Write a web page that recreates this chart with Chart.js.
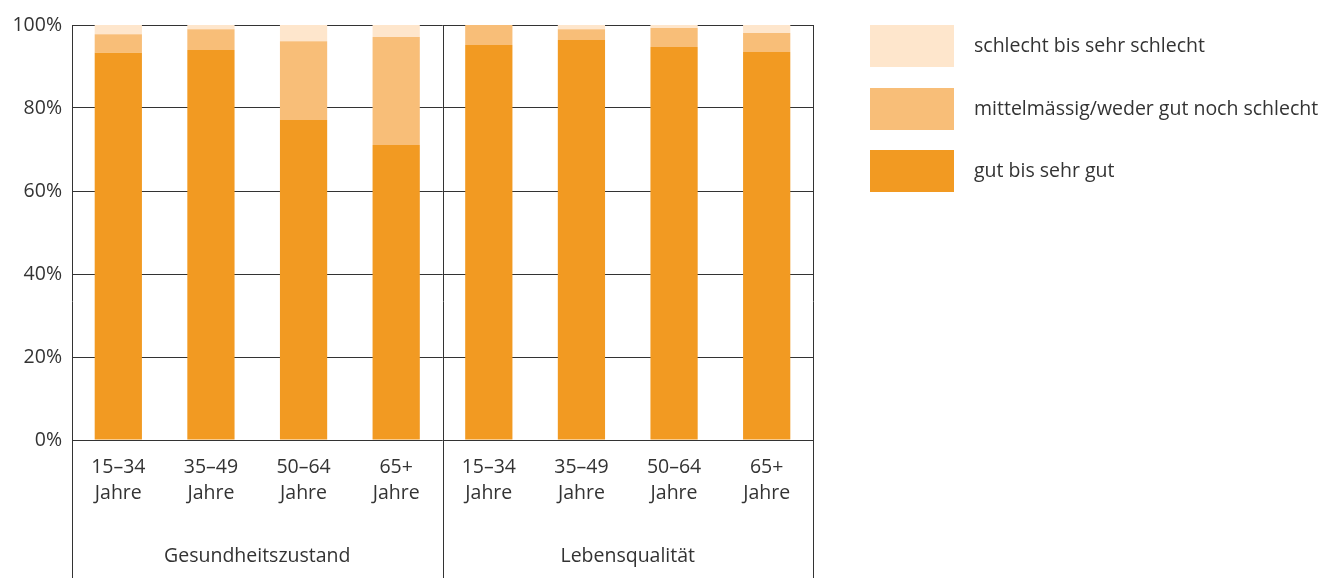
<!DOCTYPE html>
<html lang="de">
<head>
  <meta charset="UTF-8" />
  <title>Gesundheitszustand und Lebensqualität</title>
  <script src="https://cdn.jsdelivr.net/npm/chart.js"></script>
  <style>
    body {margin:0; background:#fff;}
    #wrap {position:relative; width:1319px; height:578px;}
  </style>
</head>
<body>
  <div id="wrap"><canvas id="chart"></canvas></div>

  <script>
    // Daten
    const categories = [
      ['15–34', 'Jahre'], ['35–49', 'Jahre'], ['50–64', 'Jahre'], ['65+', 'Jahre'],
      ['15–34', 'Jahre'], ['35–49', 'Jahre'], ['50–64', 'Jahre'], ['65+', 'Jahre']
    ];
    const groups = ['Gesundheitszustand', 'Lebensqualität'];
    const gut = [93.3, 94.0, 77.1, 71.1, 95.2, 96.4, 94.7, 93.5];
    const mittel = [4.5, 5.0, 19.0, 26.0, 4.8, 2.6, 4.6, 4.6];
    const schlecht = [2.2, 1.0, 3.9, 2.9, 0.0, 1.0, 0.7, 1.9];
    const yTicks = [0, 20, 40, 60, 80, 100];

    const FONT = '"Open Sans", "Liberation Sans", sans-serif';
    const FS = 19.5;
    const TXT = '#333333';
    const LINE = '#333333';

    // Linien, Gruppenbeschriftung und Legende
    const deko = {
      id: 'deko',
      afterDraw(chart) {
        const {ctx, chartArea, scales: {x}} = chart;
        const H = chart.height;
        const sep = (x.getPixelForValue(3) + x.getPixelForValue(4)) / 2;
        const xs = [x.left, sep, x.right];
        ctx.save();
        ctx.strokeStyle = LINE;
        ctx.lineWidth = 1;
        xs.forEach(px => {
          const p = Math.round(px) + 0.5;
          ctx.beginPath();
          ctx.moveTo(p, chartArea.top);
          ctx.lineTo(p, H);
          ctx.stroke();
        });
        ctx.fillStyle = TXT;
        ctx.font = FS + 'px ' + FONT;
        ctx.textAlign = 'center';
        ctx.textBaseline = 'middle';
        ctx.fillText(groups[0], (xs[0] + xs[1]) / 2, 556);
        ctx.fillText(groups[1], (xs[1] + xs[2]) / 2, 556);

        // Legende (umgekehrte Reihenfolge)
        const ds = chart.data.datasets.slice().reverse();
        ctx.textAlign = 'left';
        ds.forEach((d, i) => {
          const top = 25 + i * 62.5;
          ctx.fillStyle = d.backgroundColor;
          ctx.fillRect(870, Math.round(top), 84, 42);
          ctx.fillStyle = TXT;
          ctx.fillText(d.label, 974, Math.round(top) + 21);
        });
        ctx.restore();
      }
    };

    new Chart(document.getElementById('chart'), {
      type: 'bar',
      data: {
        labels: categories,
        datasets: [
          {label: 'gut bis sehr gut', data: gut, backgroundColor: '#F29A22'},
          {label: 'mittelmässig/weder gut noch schlecht', data: mittel, backgroundColor: '#F8BE78'},
          {label: 'schlecht bis sehr schlecht', data: schlecht, backgroundColor: '#FEE6CC'}
        ]
      },
      options: {
        responsive: true,
        maintainAspectRatio: false,
        animation: false,
        events: [],
        layout: {padding: {top: 25, right: 506, bottom: 0, left: 0}},
        datasets: {bar: {barPercentage: 0.51, categoryPercentage: 1}},
        plugins: {legend: {display: false}, tooltip: {enabled: false}},
        scales: {
          x: {
            stacked: true,
            grid: {display: false},
            border: {display: false},
            ticks: {
              color: TXT, padding: 6, maxRotation: 0, autoSkip: false,
              font: {family: FONT, size: FS, lineHeight: 26 / FS}
            },
            afterFit(s) { s.height = 138; }
          },
          y: {
            stacked: true,
            min: 0, max: 100,
            afterBuildTicks(s) { s.ticks = yTicks.map(v => ({value: v})); },
            grid: {color: LINE, lineWidth: 1, drawTicks: false},
            border: {display: false},
            ticks: {
              color: TXT, padding: 10,
              font: {family: FONT, size: FS},
              callback: v => v + '%'
            },
            afterFit(s) { s.width = 72; }
          }
        }
      },
      plugins: [deko]
    });
  </script>
</body>
</html>
